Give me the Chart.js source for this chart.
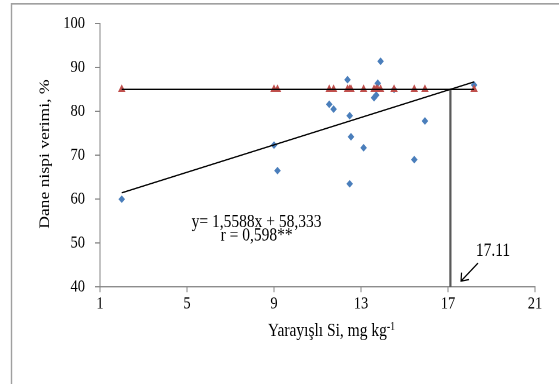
<!DOCTYPE html>
<html>
<head>
<meta charset="utf-8">
<script src="https://cdn.jsdelivr.net/npm/chart.js@4.4.1/dist/chart.umd.min.js"></script>
<style>
  html, body { margin: 0; padding: 0; background: #fff; }
  #kutu { width: 559px; height: 384px; overflow: hidden; }
</style>
</head>
<body>
<!-- orijinal grafik dikeyde biraz gerilmiş, canvas'ı da aynı şekilde geriyorum -->
<div id="kutu"><canvas id="grafik" width="559" height="328" style="width:559px;height:384px;display:block"></canvas></div>
<script>
// Yarayışlı Si (mg kg-1) - dane nispi verimi (%) değerleri
var siDegerleri    = [2.0, 9.0, 9.16, 11.54, 11.74, 12.38, 12.48, 12.54, 12.48, 13.12, 13.6, 13.7, 13.77, 13.9, 14.52, 15.45, 15.94, 18.2];
var verimDegerleri = [60.0, 72.3, 66.5, 81.6, 80.5, 87.2, 79.0, 74.2, 63.5, 71.7, 83.1, 83.7, 86.4, 91.4, 85.0, 69.0, 77.8, 86.0];

// Plato (üçgenler) değerleri
var platoX = [2.0, 9.0, 9.16, 11.54, 11.74, 12.38, 12.48, 12.54, 13.12, 13.6, 13.7, 13.77, 13.9, 14.52, 15.45, 15.94, 18.2];
var platoY = 85;

// Regresyon denklemi ve kritik değer
var egim = 1.5588, kesisim = 58.333;
var trendBas = 2.0, trendSon = 18.2;
var kritikSi = 17.11;

// Eksen etiketleri
var xTicks = [1, 5, 9, 13, 17, 21];
var yTicks = [40, 50, 60, 70, 80, 90, 100];

var yazi = '"Liberation Serif", "Times New Roman", serif';
var eksenRengi = '#868686';
var germe = 384 / 328; // dikey gerilme oranı

//Noktaları {x, y} şekline getiriyorum
var gercekNoktalar = siDegerleri.map((v, i) => ({ x: v, y: verimDegerleri[i] }));
var platoNoktalar = platoX.map(v => ({ x: v, y: platoY }));
var trendNoktalar = [trendBas, trendSon].map(v => ({ x: v, y: egim * v + kesisim }));
var platoCizgi = [{ x: trendBas, y: platoY }, { x: trendSon, y: platoY }];
var dikeyCizgi = [{ x: kritikSi, y: platoY }, { x: kritikSi, y: yTicks[0] }];

//Çerçeve, eksen başlıkları ve notlar
var notlar = {
    id: 'notlar',
    beforeDraw(chart) {
        let ctx = chart.ctx;
        ctx.save();
        ctx.strokeStyle = '#a0a0a0';
        ctx.lineWidth = 1.4;
        ctx.strokeRect(11.5, 3.2, 700, 500);
        ctx.restore();
    },
    afterDraw(chart) {
        let ctx = chart.ctx, xs = chart.scales.x, ys = chart.scales.y, alan = chart.chartArea;
        ctx.save();
        ctx.fillStyle = '#000';
        ctx.textAlign = 'center';
        ctx.textBaseline = 'alphabetic';
        ctx.font = '15.5px ' + yazi;
        ctx.fillText('y= 1,5588x + 58,333', xs.getPixelForValue(8.2), ys.getPixelForValue(53.7));
        ctx.fillText('r = 0,598**', xs.getPixelForValue(8.2), ys.getPixelForValue(50.55));
        ctx.fillText('17.11', xs.getPixelForValue(19.07), ys.getPixelForValue(47.06));

        //ok
        let ux = xs.getPixelForValue(18.38), uy = ys.getPixelForValue(45.45);
        let bx = xs.getPixelForValue(17.6), by = ys.getPixelForValue(41.35);
        ctx.strokeStyle = '#000';
        ctx.lineWidth = 1.2;
        ctx.beginPath();
        ctx.moveTo(ux, uy); ctx.lineTo(bx, by);
        ctx.moveTo(bx + 0.5, by - 7.3); ctx.lineTo(bx, by); ctx.lineTo(bx + 8, by - 1.3);
        ctx.stroke();

        //y ekseni başlığı
        ctx.font = '15px ' + yazi;
        ctx.save();
        ctx.translate(45, (alan.top + alan.bottom) / 2 - 1);
        ctx.rotate(-Math.PI / 2);
        ctx.textBaseline = 'middle';
        ctx.fillText('Dane nispi verimi, %', 0, 0);
        ctx.restore();

        //x ekseni başlığı (kg-1 üst simge)
        let ana = 'Yarayışlı Si, mg kg', ust = '-1';
        ctx.font = '15.5px ' + yazi;
        let w1 = ctx.measureText(ana).width;
        ctx.font = '10px ' + yazi;
        let w2 = ctx.measureText(ust).width;
        let sx = (alan.left + alan.right) / 2 + 14 - (w1 + w2) / 2;
        let sy = alan.bottom + 49 / germe;
        ctx.textAlign = 'left';
        ctx.font = '15.5px ' + yazi;
        ctx.fillText(ana, sx, sy);
        ctx.font = '10px ' + yazi;
        ctx.fillText(ust, sx + w1, sy - 5);
        ctx.restore();
    }
};

new Chart(document.getElementById('grafik').getContext('2d'), {
    type: 'scatter',
    data: {
        datasets: [
            {
                data: trendNoktalar, type: 'line', showLine: true, order: 0,
                borderColor: '#000', borderWidth: 1.2, pointRadius: 0, fill: false
            },
            {
                data: platoCizgi, type: 'line', showLine: true, order: 1,
                borderColor: '#000', borderWidth: 1.2, pointRadius: 0, fill: false
            },
            {
                data: dikeyCizgi, type: 'line', showLine: true, order: 2,
                borderColor: '#595959', borderWidth: 2.2, pointRadius: 0, fill: false
            },
            {
                data: platoNoktalar, order: 3,
                pointStyle: 'triangle', pointRadius: 4.3, borderWidth: 0,
                backgroundColor: '#C0504D', borderColor: '#C0504D'
            },
            {
                data: gercekNoktalar, order: 4,
                pointStyle: 'rectRot', pointRadius: 3.3, borderWidth: 0,
                backgroundColor: '#4A7EBB', borderColor: '#4A7EBB'
            }
        ]
    },
    options: {
        responsive: false,
        animation: false,
        devicePixelRatio: 2,
        layout: { padding: { left: 0, top: 23.5 / germe, right: 24, bottom: 0 } },
        plugins: { legend: { display: false }, tooltip: { enabled: false } },
        scales: {
            x: {
                type: 'linear', min: 1, max: 21,
                afterBuildTicks: s => { s.ticks = xTicks.map(v => ({ value: v })); },
                afterFit: s => { s.height = (384 - 287) / germe; },
                grid: { drawOnChartArea: false, drawTicks: true, tickLength: 4.5, color: eksenRengi },
                border: { color: eksenRengi, width: 1 },
                ticks: { color: '#000', padding: 1.5, font: { family: yazi, size: 14.5 } }
            },
            y: {
                type: 'linear', min: 40, max: 100,
                afterBuildTicks: s => { s.ticks = yTicks.map(v => ({ value: v })); },
                afterFit: s => { s.width = 100; },
                grid: { drawOnChartArea: false, drawTicks: true, tickLength: 5, color: eksenRengi },
                border: { color: eksenRengi, width: 1 },
                ticks: { color: '#000', padding: 10, font: { family: yazi, size: 14.5 } }
            }
        }
    },
    plugins: [notlar]
});
</script>
</body>
</html>
